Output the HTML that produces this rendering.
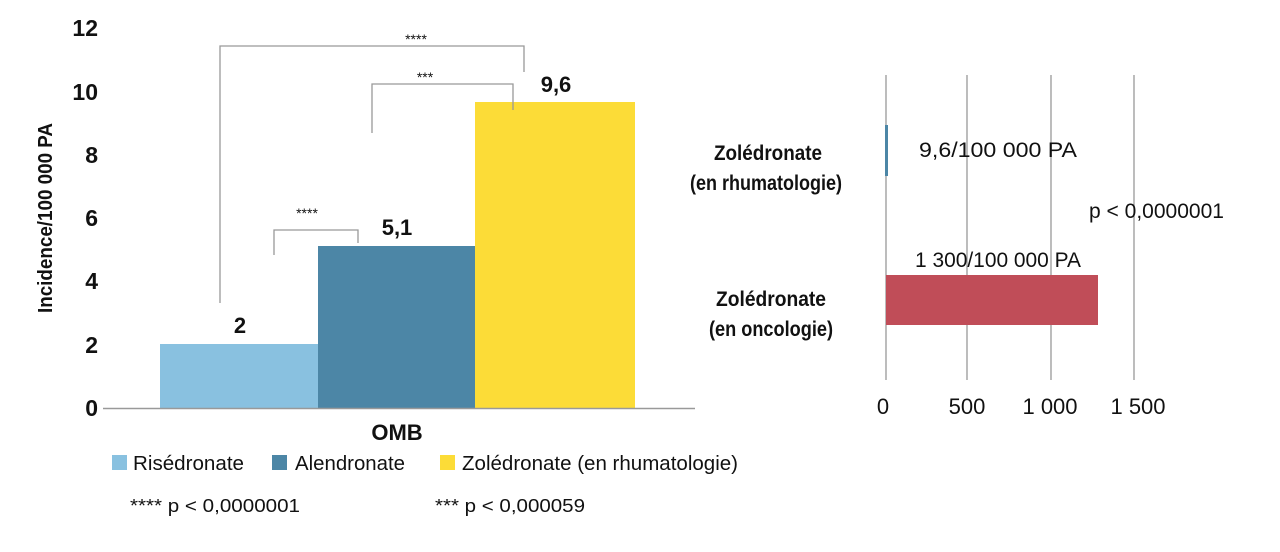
<!DOCTYPE html>
<html><head><meta charset="utf-8"><style>
body{margin:0;background:#fff}
svg{display:block}
text{font-family:"Liberation Sans Narrow","Liberation Sans",sans-serif;fill:#111}
</style></head><body>
<svg width="1280" height="552" viewBox="0 0 1280 552">
<g font-size="23" font-weight="bold" text-anchor="end">
<text x="98" y="36">12</text><text x="98" y="100">10</text><text x="98" y="163">8</text>
<text x="98" y="226">6</text><text x="98" y="289">4</text><text x="98" y="353">2</text><text x="98" y="416">0</text>
</g>
<text transform="translate(52,218) rotate(-90)" font-size="20" font-weight="bold" text-anchor="middle" textLength="190" lengthAdjust="spacingAndGlyphs">Incidence/100 000 PA</text>
<rect x="160" y="344" width="158" height="64" fill="#89c1e0"/>
<rect x="318" y="246" width="157" height="162" fill="#4c86a6"/>
<rect x="475" y="102" width="160" height="306" fill="#fcdc37"/>
<line x1="103" y1="408.5" x2="695" y2="408.5" stroke="#999" stroke-width="1.5"/>
<g font-size="22" font-weight="bold" text-anchor="middle">
<text x="240" y="333">2</text><text x="397" y="235">5,1</text><text x="556" y="92">9,6</text>
<text x="397" y="440">OMB</text>
</g>
<g fill="none" stroke="#999" stroke-width="1.3">
<polyline points="220,303 220,46 524,46 524,72"/>
<polyline points="372,133 372,84 513,84 513,110"/>
<polyline points="274,255 274,230 358,230 358,243"/>
</g>
<g font-size="14" text-anchor="middle">
<text x="416" y="44">****</text><text x="425" y="82">***</text><text x="307" y="218">****</text>
</g>
<rect x="112" y="455" width="15" height="15" fill="#89c1e0"/>
<text x="133" y="470" font-size="20" textLength="111" lengthAdjust="spacingAndGlyphs">Risédronate</text>
<rect x="272" y="455" width="15" height="15" fill="#4c86a6"/>
<text x="295" y="470" font-size="20" textLength="110" lengthAdjust="spacingAndGlyphs">Alendronate</text>
<rect x="440" y="455" width="15" height="15" fill="#fcdc37"/>
<text x="462" y="470" font-size="20" textLength="276" lengthAdjust="spacingAndGlyphs">Zolédronate (en rhumatologie)</text>
<text x="130" y="512" font-size="18" textLength="170" lengthAdjust="spacingAndGlyphs">**** p &lt; 0,0000001</text>
<text x="435" y="512" font-size="18" textLength="150" lengthAdjust="spacingAndGlyphs">*** p &lt; 0,000059</text>
<g stroke="#999" stroke-width="1.3">
<line x1="886" y1="75" x2="886" y2="380"/><line x1="967" y1="75" x2="967" y2="380"/>
<line x1="1051" y1="75" x2="1051" y2="380"/><line x1="1134" y1="75" x2="1134" y2="380"/>
</g>
<rect x="885" y="125" width="3" height="51" fill="#4c86a6"/>
<rect x="886" y="275" width="212" height="50" fill="#c04d58"/>
<g font-size="22" text-anchor="middle">
<text x="883" y="414">0</text><text x="967" y="414">500</text><text x="1050" y="414">1 000</text><text x="1138" y="414">1 500</text>
</g>
<g font-size="21" font-weight="bold" text-anchor="middle">
<text x="768" y="160" textLength="108" lengthAdjust="spacingAndGlyphs">Zolédronate</text>
<text x="766" y="190" textLength="152" lengthAdjust="spacingAndGlyphs">(en rhumatologie)</text>
<text x="771" y="306" textLength="110" lengthAdjust="spacingAndGlyphs">Zolédronate</text>
<text x="771" y="336" textLength="124" lengthAdjust="spacingAndGlyphs">(en oncologie)</text>
</g>
<g font-size="21">
<text x="919" y="157" textLength="158" lengthAdjust="spacingAndGlyphs">9,6/100 000 PA</text>
<text x="1089" y="218" textLength="135" lengthAdjust="spacingAndGlyphs">p &lt; 0,0000001</text>
<text x="915" y="267" textLength="166" lengthAdjust="spacingAndGlyphs">1 300/100 000 PA</text>
</g>
</svg>
</body></html>
